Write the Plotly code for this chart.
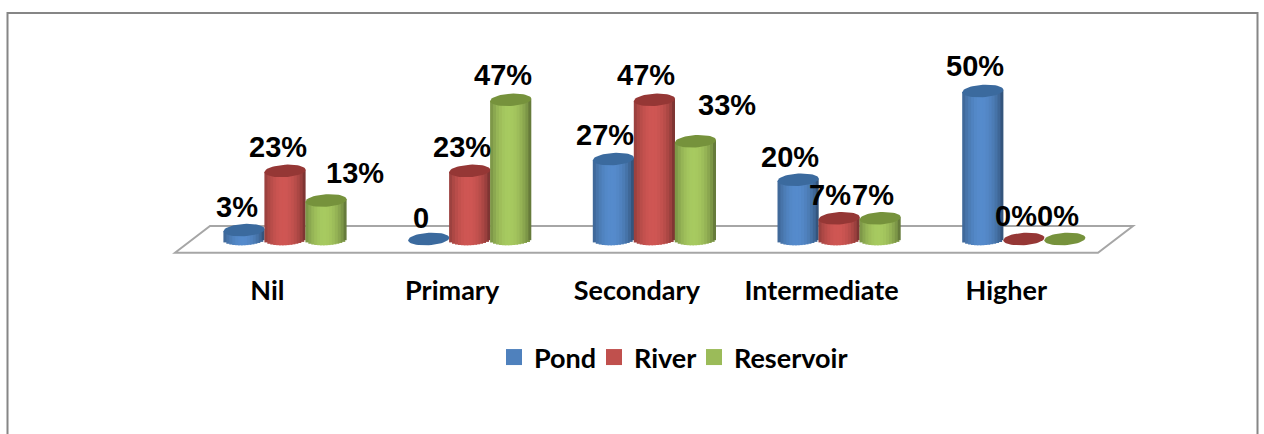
import math
import plotly.graph_objects as go

# Survey shares by education level and water source (percent)
categories = ["Nil", "Primary", "Secondary", "Intermediate", "Higher"]
pond = [3, 0, 27, 20, 50]
river = [23, 23, 47, 7, 0]
reservoir = [13, 47, 33, 7, 0]
pond_labels = ["3%", "0", "27%", "20%", "50%"]
river_labels = ["23%", "23%", "47%", "7%", "0%"]
reservoir_labels = ["13%", "47%", "33%", "7%", "0%"]

W, H = 1264, 434
PLOT_L, PLOT_R, PLOT_T, PLOT_B = 160, 1150, 50, 272
CAT_PX = 184.7        # pixels per category
ZERO_X_PX = 285       # pixel of the first category centre
ZERO_Y_PX = 239       # pixel of value 0
VAL_PX = 2.96         # pixels per percentage point

SLOT = 41 / CAT_PX            # cylinder spacing, in category units
HALF_W = 20.6 / CAT_PX        # cylinder half width
ELL_B = 6.2 / VAL_PX          # ellipse half height, in value units
TILT = 1.2 / VAL_PX           # slight lean of the elliptical caps
N_STRIPS = 14
OVERLAP = 1.6 / CAT_PX        # strips overlap so no seams show between them


def shade(rgb, u):
    """Lit colour across a cylinder, u running from -1 (left) to 1 (right)."""
    k = 0.66 + 0.42 * max(0.0, math.cos((u + 0.08) * math.pi / 2)) ** 0.7
    return "rgb(%d,%d,%d)" % tuple(min(255, round(c * k)) for c in rgb)


series = [
    ("Pond", pond, pond_labels, (79, 129, 189), "#3b6a9e", "#4F81BD", -SLOT),
    ("River", river, river_labels, (192, 80, 77), "#953735", "#C0504D", 0.0),
    ("Reservoir", reservoir, reservoir_labels, (155, 187, 89), "#76923C", "#9BBB59", SLOT),
]

fig = go.Figure()

# Cylinder bodies: vertical strips of bars, each with a shaded colour
for name, values, _, rgb, _, _, off in series:
    for s in range(N_STRIPS):
        left = -1 + 2 * s / N_STRIPS
        u = left + 1 / N_STRIPS
        base = [-ELL_B * math.sqrt(max(0, 1 - u * u)) + TILT * u for _ in values]
        tops = [None if v == 0 else v + TILT * u - b for v, b in zip(values, base)]
        extra = OVERLAP if s < N_STRIPS - 1 else 0
        fig.add_trace(go.Bar(
            x=list(range(len(categories))),
            y=tops,
            base=base,
            width=2 * HALF_W / N_STRIPS + extra,
            offset=off + left * HALF_W,
            marker=dict(color=shade(rgb, u), line=dict(width=0)),
            showlegend=False,
            hoverinfo="skip",
        ))

# Elliptical caps sitting on top of each cylinder
for name, values, _, _, cap, _, off in series:
    for i, v in enumerate(values):
        steps = [2 * math.pi * t / 48 for t in range(49)]
        fig.add_trace(go.Scatter(
            x=[i + off + HALF_W * math.cos(t) for t in steps],
            y=[v + ELL_B * math.sin(t) + TILT * math.cos(t) for t in steps],
            mode="lines",
            fill="toself",
            fillcolor=cap,
            line=dict(width=0, color=cap),
            showlegend=False,
            hoverinfo="skip",
        ))


def px(x):
    return (x - PLOT_L) / (PLOT_R - PLOT_L)


def py(y):
    return (PLOT_B - y) / (PLOT_B - PLOT_T)


# Legend entries: one legend per series so each entry can be spaced on its own
legend_ids = ["legend", "legend2", "legend3"]
legend_left = [494, 594, 694]
legend_layout = {}
for (name, _, _, _, _, swatch, _), lid, left in zip(series, legend_ids, legend_left):
    fig.add_trace(go.Scatter(
        x=[None], y=[None], mode="markers", name=name, legend=lid, showlegend=True,
        marker=dict(symbol="square", size=17, color=swatch),
    ))
    legend_layout[lid] = dict(
        orientation="h", x=px(left), xanchor="left", y=py(333), yanchor="top",
        font=dict(family="Lato", size=27, color="#000000", weight=700),
        bgcolor="rgba(0,0,0,0)",
    )

# Data labels, placed from each value with a per-label nudge in pixels
nudges = {
    "Pond": [(-7, 23), (-8, 21), (-8, 24), (-8, 23), (-8, 25)],
    "River": [(-7, 24), (-8, 24), (-8, 25), (-9, 23), (-8, 23)],
    "Reservoir": [(29, 28), (-8, 25), (32, 36), (-7, 23), (-7, 23)],
}
annotations = []
for name, values, labels, _, _, _, off in series:
    for i, (v, text) in enumerate(zip(values, labels)):
        dx, dy = nudges[name][i]
        annotations.append(dict(
            x=i + off, y=v, xref="x", yref="y", text=text, showarrow=False,
            xshift=dx, yshift=dy, xanchor="center", yanchor="middle",
            font=dict(family="Liberation Sans", size=29, color="#000000", weight=700),
        ))

shapes = [
    # Chart frame; its lower edge runs past the page
    dict(type="rect", xref="paper", yref="paper", layer="below",
         x0=px(7.5), x1=px(1257.5), y0=py(480), y1=py(13),
         line=dict(color="#868686", width=2), fillcolor="rgba(0,0,0,0)"),
    # Chart floor
    dict(type="path", xref="paper", yref="paper", layer="below",
         path="M %f %f L %f %f L %f %f L %f %f Z" % (
             px(175), py(252.7), px(210), py(226), px(1133), py(226), px(1098), py(252.7)),
         line=dict(color="#A6A6A6", width=2), fillcolor="#FFFFFF"),
]

fig.update_layout(
    width=W,
    height=H,
    margin=dict(l=PLOT_L, r=W - PLOT_R, t=PLOT_T, b=H - PLOT_B, autoexpand=False),
    paper_bgcolor="#FFFFFF",
    plot_bgcolor="rgba(0,0,0,0)",
    barmode="overlay",
    shapes=shapes,
    annotations=annotations,
    xaxis=dict(
        range=[(PLOT_L - ZERO_X_PX) / CAT_PX, (PLOT_R - ZERO_X_PX) / CAT_PX],
        tickmode="array",
        tickvals=[i - 0.095 for i in range(len(categories))],
        ticktext=categories,
        tickfont=dict(family="Lato", size=27, color="#000000", weight=700),
        showgrid=False, zeroline=False, showline=False,
        ticks="", tickangle=0,
    ),
    yaxis=dict(
        range=[(ZERO_Y_PX - PLOT_B) / VAL_PX, (ZERO_Y_PX - PLOT_T) / VAL_PX],
        visible=False,
    ),
    **legend_layout,
)

fig.write_html("out.html", config=dict(displayModeBar=False))
